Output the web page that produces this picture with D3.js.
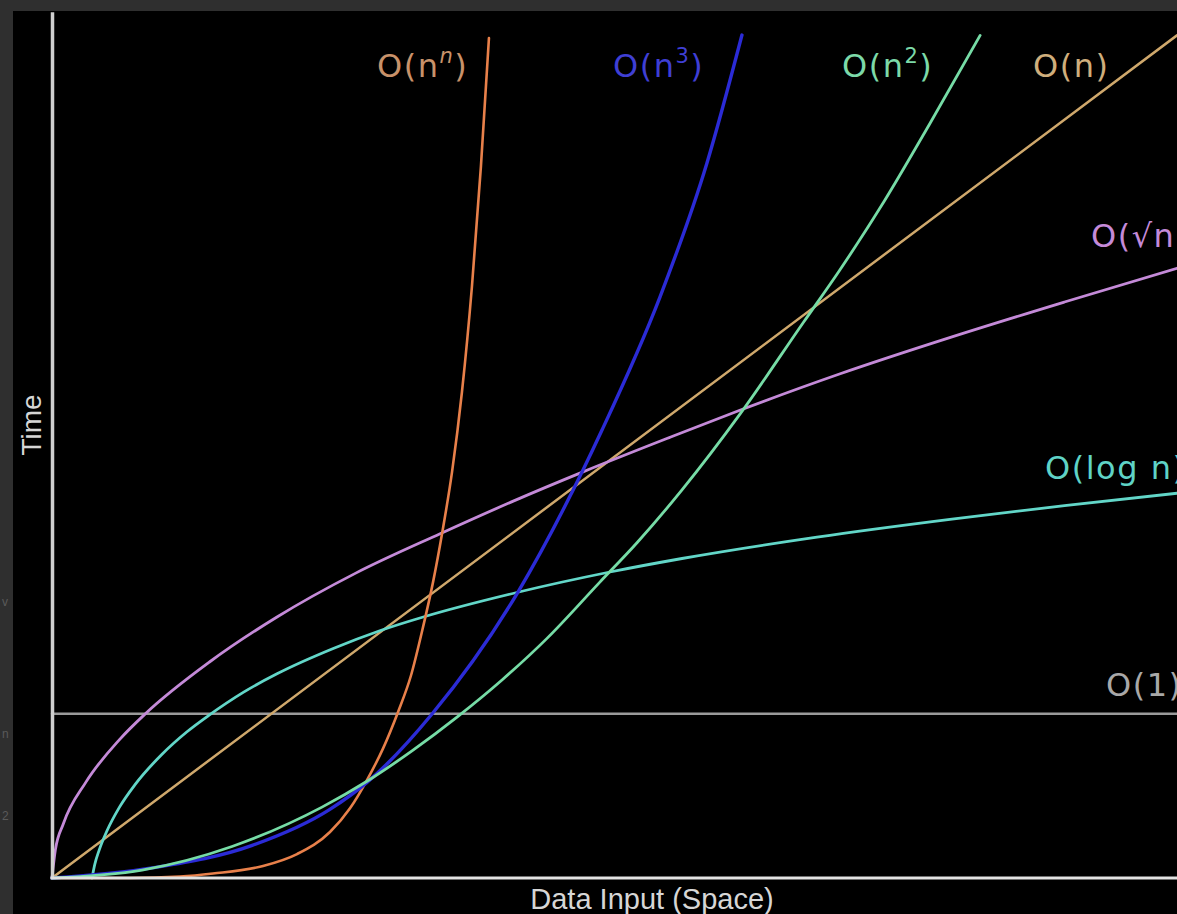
<!DOCTYPE html>
<html>
<head>
<meta charset="utf-8">
<script src="https://cdn.jsdelivr.net/npm/d3@7"></script>
<style>
  html, body { margin: 0; padding: 0; background: #2f2f2f; overflow: hidden; }
  svg { display: block; }
</style>
</head>
<body>
<script>
// ---- data (x: input size, y: time) ----
const constX = [0, 100];
const constY = [14.6, 14.6];

const logX = [3.56, 3.8, 4.2, 4.89, 6, 7.38, 9.78, 12, 14, 17, 20, 25, 29.2, 33, 41.4, 49.6, 56, 68, 80, 90, 100];
const logY = [0, 1.2, 2.5, 4.2, 6.3, 8.3, 11.0, 13.0, 14.5, 16.5, 18.15, 20.4, 22.0, 23.2, 25.4, 27.2, 28.4, 30.3, 31.9, 33.1, 34.2];

const sqrtX = [0, 0.3, 1, 3, 6, 8.3, 14, 20, 27, 34.5, 41, 47.2, 55, 61.2, 70, 80, 90, 100];
const sqrtY = [0, 2.5, 4.8, 8.5, 12.3, 14.6, 19.2, 23.2, 27.1, 30.6, 33.5, 36.1, 39.2, 41.6, 44.8, 48.1, 51.2, 54.2];

const linX = [0, 100];
const linY = [0, 74.9];

const quadX = [0, 8, 16, 24, 28, 32, 36, 40, 44, 48.7, 52, 56, 61.2, 66.8, 70, 74, 78, 82.5];
const quadY = [0, 0.7, 2.8, 6.3, 8.6, 11.3, 14.3, 17.6, 21.3, 26.3, 29.8, 34.5, 41.3, 49.4, 54.0, 60.2, 67.0, 74.9];

const cubeX = [0, 8.9, 17.8, 24.7, 28.0, 33.78, 41.42, 47.2, 48.89, 54.04, 58.22, 61.33];
const cubeY = [0, 0.9, 2.9, 6.1, 8.5, 14.58, 25.42, 36.27, 39.82, 51.64, 63.56, 74.93];

const expX = [0, 6.93, 11.38, 14.31, 18.76, 21.78, 24.71, 26.49, 28.0, 29.42, 30.76, 31.91, 32.98, 33.87, 34.67, 35.56, 36.44, 37.33, 38.13, 38.84];
const expY = [0, 0, 0.13, 0.4, 1.07, 2.13, 4.09, 6.2, 8.71, 11.5, 14.76, 18.0, 22.3, 26.3, 30.6, 36.1, 43.2, 52.6, 63.3, 74.67];

const seriesNames  = ["O(1)", "O(n)", "O(√n)", "O(log n)", "O(nⁿ)", "O(n³)", "O(n²)"];
const seriesColors = ["#9a9a9a", "#cfa86c", "#c48ad8", "#62d6c8", "#e8804a", "#2b2bd6", "#76dca6"];
const seriesWidths = [2.5, 2.5, 2.8, 2.8, 2.6, 3.4, 2.8];
const seriesXs = [constX, linX, sqrtX, logX, expX, cubeX, quadX];
const seriesYs = [constY, linY, sqrtY, logY, expY, cubeY, quadY];

const xTitle = "Data Input (Space)";
const yTitle = "Time";

// ---- layout ----
const W = 1177, H = 914;
const svg = d3.select("body").append("svg").attr("width", W).attr("height", H);

svg.append("rect").attr("x", 13).attr("y", 11).attr("width", W - 13).attr("height", H - 11).attr("fill", "#000");

// faint remnants in the left margin
[["v", 606], ["n", 738], ["2", 820]].forEach(([t, y]) => {
  svg.append("text").attr("x", 2).attr("y", y).attr("fill", "#5a5a5a")
    .attr("font-family", "Liberation Sans, Arial, sans-serif").attr("font-size", 12).text(t);
});

const x = d3.scaleLinear().domain([0, 100]).range([52, 1177]);
const y = d3.scaleLinear().domain([0, 77]).range([878, 11.75]);

const chart = svg.append("g");

const line = d3.line().x(d => x(d[0])).y(d => y(d[1])).curve(d3.curveMonotoneX);

seriesNames.forEach((name, i) => {
  const pts = seriesXs[i].map((v, j) => [v, seriesYs[i][j]]);
  chart.append("path")
    .datum(pts)
    .attr("d", line)
    .attr("fill", "none")
    .attr("stroke", seriesColors[i])
    .attr("stroke-width", seriesWidths[i])
    .attr("stroke-linecap", "round")
    .attr("stroke-linejoin", "round");
});

// axes (no ticks)
const yAxis = chart.append("g").attr("transform", "translate(52,0)")
  .call(d3.axisLeft(y).tickValues([]).tickSizeOuter(0));
yAxis.select(".domain").attr("stroke", "#cfcfcf").attr("stroke-width", 3.5);

const xAxis = chart.append("g").attr("transform", "translate(0,878)")
  .call(d3.axisBottom(x).tickValues([]).tickSizeOuter(0));
xAxis.select(".domain").attr("stroke", "#e2e2e2").attr("stroke-width", 3).attr("d", "M50.5,0H1177");

// axis titles
svg.append("text")
  .attr("x", 652).attr("y", 909)
  .attr("text-anchor", "middle")
  .attr("fill", "#d6d6d6")
  .attr("font-family", "Liberation Sans, Arial, sans-serif")
  .attr("font-size", 29)
  .text(xTitle);

svg.append("text")
  .attr("transform", "translate(41,425) rotate(-90)")
  .attr("text-anchor", "middle")
  .attr("fill", "#d6d6d6")
  .attr("font-family", "Liberation Sans, Arial, sans-serif")
  .attr("font-size", 28)
  .text(yTitle);

// ---- curve labels ----
const labelFont = "DejaVu Sans, Verdana, sans-serif";
function label(xp, yp, color, parts) {
  const t = svg.append("text").attr("x", xp).attr("y", yp)
    .attr("fill", color).attr("font-family", labelFont)
    .attr("font-size", 32).attr("letter-spacing", 1.5);
  parts.forEach(p => {
    const s = t.append("tspan").text(p.t);
    if (p.sup) s.attr("font-size", 21).attr("dy", -14);
    if (p.down) s.attr("dy", 14);
    if (p.italic) s.attr("font-style", "italic");
  });
}
label(377, 77, "#c8926a", [{t: "O(n"}, {t: "n", sup: true, italic: true}, {t: ")", down: true}]);
label(613, 77, "#3f3fd4", [{t: "O(n"}, {t: "3", sup: true}, {t: ")", down: true}]);
label(842, 77, "#7cd9a8", [{t: "O(n"}, {t: "2", sup: true}, {t: ")", down: true}]);
label(1033, 77, "#cfae7c", [{t: "O(n)"}]);
label(1091, 247, "#c48ad8", [{t: "O(√n)"}]);
label(1045, 479, "#5fd3c6", [{t: "O(log n)"}]);
label(1106, 696, "#a8a8a8", [{t: "O(1)"}]);
</script>
</body>
</html>
